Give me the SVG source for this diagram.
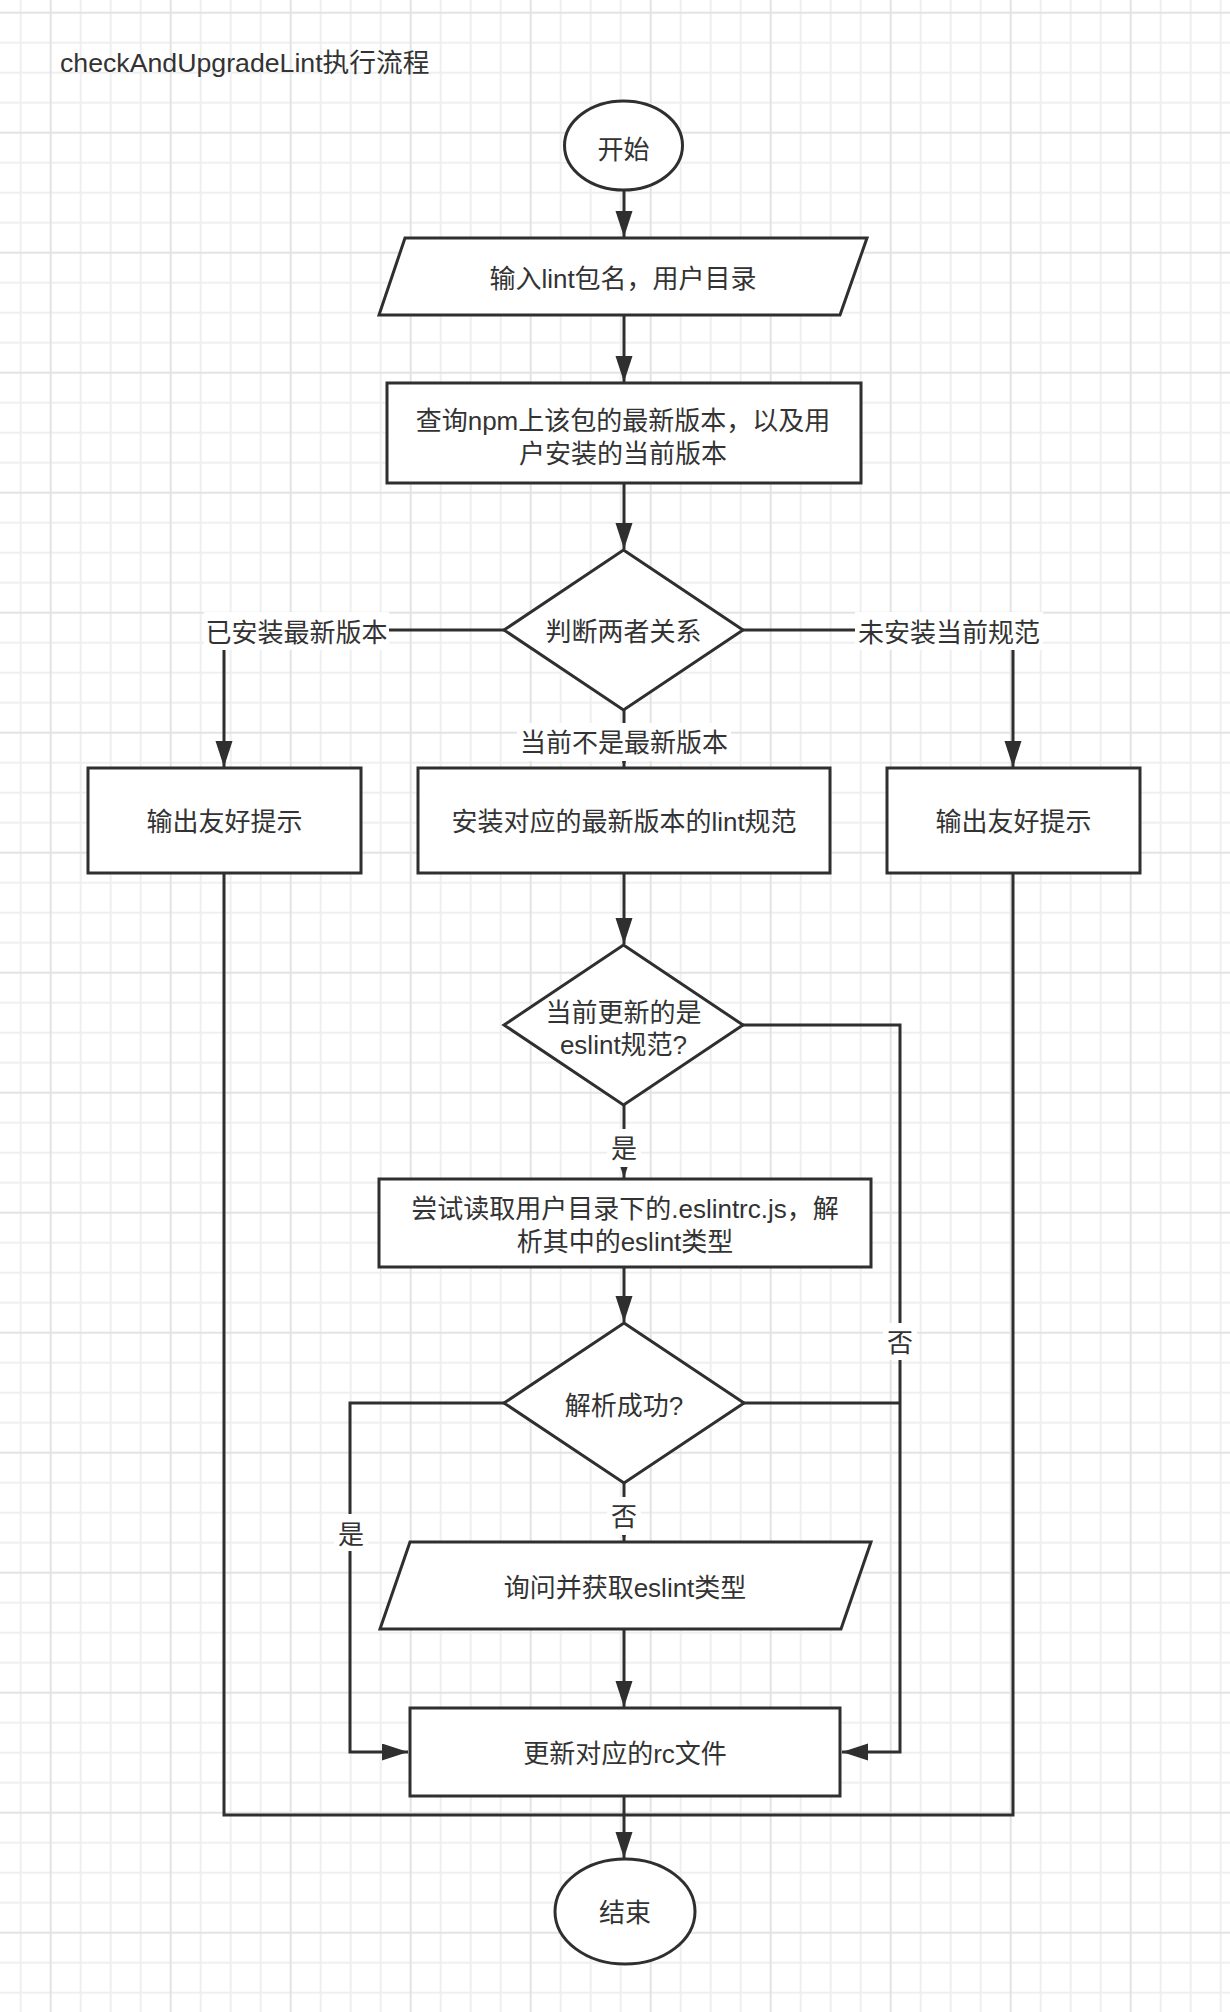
<svg xmlns="http://www.w3.org/2000/svg" width="1230" height="2012" viewBox="0 0 1230 2012">
<style>
text{font-family:"Liberation Sans","Noto Sans CJK SC",sans-serif;font-size:26px;fill:#333;text-anchor:middle}
.title{text-anchor:start;font-size:26.7px}
.shape{fill:#fff;stroke:#2f2f2f;stroke-width:3}
.edge{fill:none;stroke:#2f2f2f;stroke-width:3}
.arr{marker-end:url(#ah)}
.lbg{fill:#fff}
</style>
<defs>
<pattern id="grid" x="19.7" y="11.7" width="120" height="120" patternUnits="userSpaceOnUse">
<rect x="0" y="0" width="120" height="120" fill="#fff"/>
<g fill="#efefef">
<rect x="0" y="0" width="2" height="120"/><rect x="60" y="0" width="2" height="120"/><rect x="90" y="0" width="2" height="120"/>
<rect x="0" y="30" width="120" height="2"/><rect x="0" y="60" width="120" height="2"/><rect x="0" y="90" width="120" height="2"/>
</g>
<g fill="#e3e3e3">
<rect x="30" y="0" width="2" height="120"/>
<rect x="0" y="0" width="120" height="2"/>
</g>
</pattern>
<marker id="ah" markerUnits="userSpaceOnUse" markerWidth="28" markerHeight="18" refX="26" refY="8.5" orient="auto">
<path d="M0,0 L26,8.5 L0,17 Z" fill="#2f2f2f"/>
</marker>
</defs>
<rect x="0" y="0" width="1230" height="2012" fill="url(#grid)"/>
<text class="title" x="60" y="72">checkAndUpgradeLint执行流程</text>

<g id="connectors">
<path class="edge arr" d="M624,190 V237"/>
<path class="edge arr" d="M624,315 V382"/>
<path class="edge arr" d="M624,483 V549"/>
<path class="edge arr" d="M504,630 H224 V767"/>
<path class="edge arr" d="M624,710 V767"/>
<path class="edge arr" d="M743,630 H1013 V767"/>
<path class="edge arr" d="M624,873 V944"/>
<path class="edge arr" d="M624,1105 V1178"/>
<path class="edge arr" d="M743,1025 H900 V1752 H842"/>
<path class="edge arr" d="M624,1267 V1322"/>
<path class="edge arr" d="M504,1403 H350 V1752 H408"/>
<path class="edge arr" d="M624,1483 V1541"/>
<path class="edge" d="M744,1403 H900"/>
<path class="edge arr" d="M624,1629 V1707"/>
<path class="edge arr" d="M624,1796 V1858"/>
<path class="edge" d="M224,873 V1815 H624"/>
<path class="edge" d="M1013,873 V1815 H624"/>
<g id="edge-labels">
<rect class="lbg" x="204" y="612" width="185" height="38"/>
<text x="296.5" y="642">已安装最新版本</text>
<rect class="lbg" x="517" y="723" width="214" height="38"/>
<text x="624" y="752">当前不是最新版本</text>
<rect class="lbg" x="855" y="612" width="188" height="38"/>
<text x="949" y="642">未安装当前规范</text>
<rect class="lbg" x="607" y="1129" width="34" height="38"/>
<text x="624" y="1158">是</text>
<rect class="lbg" x="883" y="1323" width="34" height="37"/>
<text x="900" y="1352">否</text>
<rect class="lbg" x="334" y="1514" width="34" height="37"/>
<text x="351" y="1543.5">是</text>
<rect class="lbg" x="607" y="1497" width="34" height="38"/>
<text x="624" y="1526">否</text>
</g>
</g>

<g id="start">
<ellipse class="shape" cx="623.5" cy="145.5" rx="59" ry="44.5"/>
<text x="623.5" y="159">开始</text>
</g>
<g id="input">
<polygon class="shape" points="405,238 867,238 840,315 379,315"/>
<text x="623" y="287.5">输入lint包名，用户目录</text>
</g>
<g id="query">
<rect class="shape" x="387" y="383" width="474" height="100"/>
<text x="623" y="430">查询npm上该包的最新版本，以及用</text>
<text x="623" y="462.5">户安装的当前版本</text>
</g>
<g id="judge">
<polygon class="shape" points="623.5,550 743,630 623.5,710 504,630"/>
<text x="623.5" y="641">判断两者关系</text>
</g>
<g id="tip-left">
<rect class="shape" x="88" y="768" width="273" height="105"/>
<text x="224.5" y="831">输出友好提示</text>
</g>
<g id="install">
<rect class="shape" x="418" y="768" width="412" height="105"/>
<text x="624" y="831">安装对应的最新版本的lint规范</text>
</g>
<g id="tip-right">
<rect class="shape" x="887" y="768" width="253" height="105"/>
<text x="1013.5" y="831">输出友好提示</text>
</g>
<g id="is-eslint">
<polygon class="shape" points="623.5,945 743,1025 623.5,1105 504,1025"/>
<text x="623.5" y="1021.5">当前更新的是</text>
<text x="623.5" y="1054">eslint规范?</text>
</g>
<g id="read-rc">
<rect class="shape" x="379" y="1179" width="492" height="88"/>
<text x="625" y="1217.5">尝试读取用户目录下的.eslintrc.js，解</text>
<text x="625" y="1251">析其中的eslint类型</text>
</g>
<g id="parse-ok">
<polygon class="shape" points="624,1323 744,1403 624,1483 504,1403"/>
<text x="624" y="1415">解析成功?</text>
</g>
<g id="ask">
<polygon class="shape" points="410,1542 871,1542 841,1629 380,1629"/>
<text x="625" y="1596.5">询问并获取eslint类型</text>
</g>
<g id="update-rc">
<rect class="shape" x="410" y="1708" width="430" height="88"/>
<text x="625" y="1763">更新对应的rc文件</text>
</g>
<g id="end">
<ellipse class="shape" cx="625" cy="1911.5" rx="70" ry="52.5"/>
<text x="625" y="1922">结束</text>
</g>
</svg>
